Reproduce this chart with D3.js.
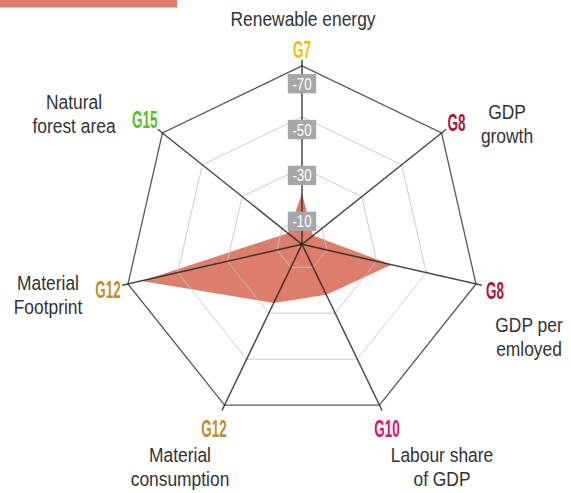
<!DOCTYPE html>
<html>
<head>
<meta charset="utf-8">
<script src="https://cdn.jsdelivr.net/npm/d3@7"></script>
<style>
  body { margin: 0; background: #fff; }
  svg { display: block; }
  .name { font-family: "Liberation Sans", Arial, sans-serif; font-size: 20px; fill: #333; }
  .goal { font-family: "Liberation Sans", Arial, sans-serif; font-size: 24px; font-weight: bold; }
  .tick { font-family: "Liberation Sans", Arial, sans-serif; font-size: 17px; fill: #fff; }
</style>
</head>
<body>
<svg width="571" height="493"></svg>
<script>
// radar chart, 7 indicators, clockwise from the top

const names = [
    ['Renewable energy'],
    ['GDP', 'growth'],
    ['GDP per', 'emloyed'],
    ['Labour share', 'of GDP'],
    ['Material', 'consumption'],
    ['Material', 'Footprint'],
    ['Natural', 'forest area']
];
const goals = ['G7', 'G8', 'G8', 'G10', 'G12', 'G12', 'G15'];
const goalColors = ['#f6be00', '#a21942', '#a21942', '#dd1367', '#c28d2e', '#c28d2e', '#56c02b'];
const values = [-20, -5.5, -36, -22, -25.5, -64.5, -7];
const levels = [-10, -30, -50, -70];
const tickLabels = ['-10', '-30', '-50', '-70'];

// label layout (text only)
const nameLayout = [
    { x: 303, y: 26 }, { x: 507, y: 119 }, { x: 529, y: 331.5 }, { x: 442, y: 461.5 },
    { x: 180, y: 461.5 }, { x: 48, y: 290 }, { x: 74, y: 109 }
];
const goalLayout = [
    { dx: 0, dy: -7.5, anchor: 'middle' }, { dx: 6, dy: -2.3, anchor: 'start' },
    { dx: 10, dy: 15, anchor: 'start' }, { dx: 7.6, dy: 31.7, anchor: 'middle' },
    { dx: -10.6, dy: 31.7, anchor: 'middle' }, { dx: -7.3, dy: 14.3, anchor: 'end' },
    { dx: -5, dy: -5.3, anchor: 'end' }
];

const cx = 302, cy = 244.3, R = 178.5;
const n = names.length;
const narrow = 0.87;   // no condensed font installed, squeeze the text instead

const svg = d3.select('svg');

const r = d3.scaleLinear().domain([0, -70]).range([0, R]);
const angle = d3.scaleLinear().domain([0, n]).range([-Math.PI / 2, 1.5 * Math.PI]);

function pt(i, rad) {
    return [cx + rad * Math.cos(angle(i)), cy + rad * Math.sin(angle(i))];
}

// top bar
svg.append('rect')
    .attr('x', 0).attr('y', 0)
    .attr('width', 177).attr('height', 7.5)
    .attr('fill', '#dc7b6b');

// data polygon
const shape = d3.line().curve(d3.curveLinearClosed);
svg.append('path')
    .attr('d', shape(values.map((v, i) => pt(i, r(v)))))
    .attr('fill', '#d96f5c')
    .attr('fill-opacity', 0.9);

// rings
svg.append('g')
    .selectAll('path')
    .data(levels)
    .enter().append('path')
    .attr('d', lv => shape(d3.range(n).map(i => pt(i, r(lv)))))
    .attr('fill', 'none')
    .attr('stroke', (lv, k) => k === levels.length - 1 ? '#5a5a5a' : '#c4c4c4')
    .attr('stroke-opacity', (lv, k) => k === levels.length - 1 ? 1 : 0.85)
    .attr('stroke-width', (lv, k) => k === levels.length - 1 ? 1.3 : 1);

// spokes
svg.append('g')
    .selectAll('line')
    .data(d3.range(n))
    .enter().append('line')
    .attr('x1', cx).attr('y1', cy)
    .attr('x2', i => pt(i, R + 6)[0])
    .attr('y2', i => pt(i, R + 6)[1])
    .attr('stroke', '#1e1e1e')
    .attr('stroke-opacity', 0.8)
    .attr('stroke-width', 1.5);

// value labels on the top axis
const ticks = svg.append('g')
    .selectAll('g')
    .data(levels)
    .enter().append('g')
    .attr('transform', lv => `translate(${cx},${cy - r(lv) * 0.9})`);
ticks.append('rect')
    .attr('x', -14.2).attr('y', -9.7)
    .attr('width', 28.4).attr('height', 19.4)
    .attr('fill', '#a6a7a9');
ticks.append('text')
    .attr('class', 'tick')
    .attr('text-anchor', 'middle')
    .attr('transform', 'translate(0,6) scale(0.78,1)')
    .text((lv, k) => tickLabels[k]);

// goal labels
svg.append('g')
    .selectAll('text')
    .data(goals)
    .enter().append('text')
    .attr('class', 'goal')
    .attr('text-anchor', (g, i) => goalLayout[i].anchor)
    .attr('transform', (g, i) => {
        const p = pt(i, R);
        return `translate(${p[0] + goalLayout[i].dx},${p[1] + goalLayout[i].dy}) scale(0.56,1)`;
    })
    .attr('fill', (g, i) => goalColors[i])
    .text(g => g);

// indicator names, one text per line
const lines = names.flatMap((d, i) => d.map((s, k) => ({ s, i, k })));
svg.append('g')
    .selectAll('text')
    .data(lines)
    .enter().append('text')
    .attr('class', 'name')
    .attr('text-anchor', 'middle')
    .attr('transform', d => `translate(${nameLayout[d.i].x},${nameLayout[d.i].y + d.k * 24.4}) scale(${narrow},1)`)
    .text(d => d.s);
</script>
</body>
</html>
